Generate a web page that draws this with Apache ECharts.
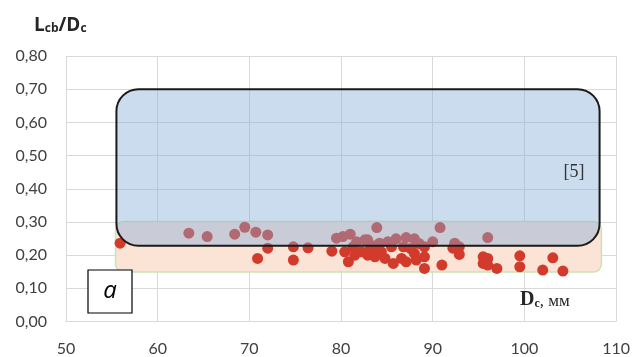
<!DOCTYPE html>
<html><head><meta charset="utf-8">
<script src="https://cdn.jsdelivr.net/npm/echarts@6/dist/echarts.min.js"></script>
<style>html,body{margin:0;padding:0;background:#fff}#c{width:633px;height:357px}</style>
</head><body><div id="c"></div>
<script>
// Scatter data: Dc (mm) and Lcb/Dc
const dcValues = [55.9, 63.4, 65.4, 68.4, 69.5, 70.7, 72.0, 72.0, 70.9, 74.8, 74.8, 76.4, 79.0, 79.5, 80.2, 81.0, 81.7, 82.6, 80.4, 80.8, 81.5, 82.2, 82.9, 83.9, 90.8, 82.9, 84.2, 85.1, 86.0, 87.1, 88.0, 89.1, 90.0, 82.9, 83.7, 84.4, 84.8, 85.7, 86.6, 87.1, 88.0, 88.2, 89.1, 89.1, 91.0, 96.0, 92.4, 92.9, 92.2, 92.9, 95.5, 96.0, 95.5, 96.0, 97.0, 99.5, 99.5, 103.1, 102.0, 104.2, 83.3, 81.3, 84.0, 85.5, 86.8, 87.6, 88.5];
const ratioValues = [0.236, 0.266, 0.256, 0.263, 0.284, 0.269, 0.261, 0.221, 0.190, 0.225, 0.185, 0.222, 0.212, 0.251, 0.256, 0.263, 0.240, 0.246, 0.210, 0.180, 0.200, 0.210, 0.200, 0.283, 0.283, 0.246, 0.236, 0.240, 0.249, 0.253, 0.249, 0.225, 0.240, 0.210, 0.195, 0.210, 0.190, 0.175, 0.190, 0.180, 0.205, 0.185, 0.195, 0.160, 0.170, 0.253, 0.236, 0.225, 0.221, 0.202, 0.195, 0.190, 0.175, 0.170, 0.160, 0.198, 0.165, 0.192, 0.155, 0.152, 0.230, 0.225, 0.215, 0.225, 0.225, 0.220, 0.235];
// Regions [xMin, yMin, xMax, yMax]
const regionRef5 = [55.5, 0.228, 108.2, 0.70];
const regionOwn = [55.4, 0.149, 108.4, 0.301];
const regionLabel = '[5]';
const regionLabelPos = [105.4, 0.45];
// Axes
const xMin = 50, xMax = 110, xStep = 10;
const yMin = 0, yMax = 0.8, yStep = 0.1;

const chart = echarts.init(document.getElementById('c'), null, {renderer: 'canvas'});
const points = dcValues.map((x, i) => [x, ratioValues[i]]);

function rectRenderer(fill, stroke, lw, rad, withLabel) {
  return function (params, api) {
    const p1 = api.coord([api.value(0), api.value(3)]);
    const p2 = api.coord([api.value(2), api.value(1)]);
    const children = [{
      type: 'rect',
      shape: {x: p1[0], y: p1[1], width: p2[0] - p1[0], height: p2[1] - p1[1], r: rad},
      style: {fill: fill, stroke: stroke, lineWidth: lw}
    }];
    if (withLabel) {
      const lp = api.coord(regionLabelPos);
      children.push({type: 'text', x: lp[0], y: lp[1],
        style: {text: regionLabel, font: '18px "Liberation Serif"', fill: '#333', align: 'center', verticalAlign: 'middle'}});
    }
    return {type: 'group', children: children};
  };
}

const font = 'Lato';
chart.setOption({
  animation: false,
  grid: {left: 66, right: 16, top: 56, bottom: 35.5, containLabel: false},
  xAxis: {
    type: 'value', min: xMin, max: xMax, interval: xStep,
    axisLine: {show: true, lineStyle: {color: '#d9d9d9'}},
    axisTick: {show: false},
    axisLabel: {color: '#404040', fontSize: 16, fontFamily: font, margin: 19},
    splitLine: {show: true, lineStyle: {color: '#d9d9d9'}}
  },
  yAxis: {
    type: 'value', min: yMin, max: yMax, interval: yStep,
    axisLine: {show: true, lineStyle: {color: '#d9d9d9'}},
    axisTick: {show: false},
    axisLabel: {color: '#404040', fontSize: 16, fontFamily: font, margin: 19,
      formatter: v => v.toFixed(2).replace('.', ',')},
    splitLine: {show: true, lineStyle: {color: '#d9d9d9'}}
  },
  series: [
    {type: 'custom', z: 1, silent: true, clip: false,
     encode: {x: [0, 2], y: [1, 3]},
     data: [regionOwn],
     renderItem: rectRenderer('#fbe4d6', '#c9e2b8', 1.5, 8, false)},
    {type: 'scatter', z: 2, symbolSize: 11, data: points,
     itemStyle: {color: '#d23a2b', opacity: 1}},
    {type: 'custom', z: 3, silent: true, clip: false,
     encode: {x: [0, 2], y: [1, 3]},
     data: [regionRef5],
     renderItem: rectRenderer('rgba(130,172,214,0.42)', '#1a1a1a', 2, 22, true)}
  ],
  graphic: [
    {type: 'text', left: 34, top: 16, style: {
      text: '{m|L}{s|cb}{m|/D}{s|c}',
      rich: {
        m: {fontSize: 19, fontWeight: 'bold', fontFamily: 'Open Sans', fill: '#262626', verticalAlign: 'bottom', lineHeight: 24},
        s: {fontSize: 12, fontWeight: 'bold', fontFamily: 'Open Sans', fill: '#262626', verticalAlign: 'bottom', lineHeight: 18}
      }}},
    {type: 'rect', z: 10, shape: {x: 88, y: 270, width: 44, height: 43},
     style: {fill: '#fff', stroke: '#000', lineWidth: 1.2}},
    {type: 'text', z: 11, x: 110, y: 291, style: {
      text: 'a', font: 'italic 24px "Open Sans"', fill: '#000', align: 'center', verticalAlign: 'middle'}},
    {type: 'text', z: 11, left: 520, top: 290, style: {
      text: '{d|D}{s|c}{n|, мм}',
      rich: {
        d: {fontSize: 20, fontWeight: 'bold', fontFamily: 'Liberation Serif', fill: '#262626', verticalAlign: 'bottom', lineHeight: 22},
        s: {fontSize: 12, fontWeight: 'bold', fontFamily: 'Liberation Serif', fill: '#262626', verticalAlign: 'bottom', lineHeight: 17},
        n: {fontSize: 17, fontFamily: 'Liberation Serif', fill: '#262626', verticalAlign: 'bottom', lineHeight: 20}
      }}}
  ]
});
</script></body></html>
